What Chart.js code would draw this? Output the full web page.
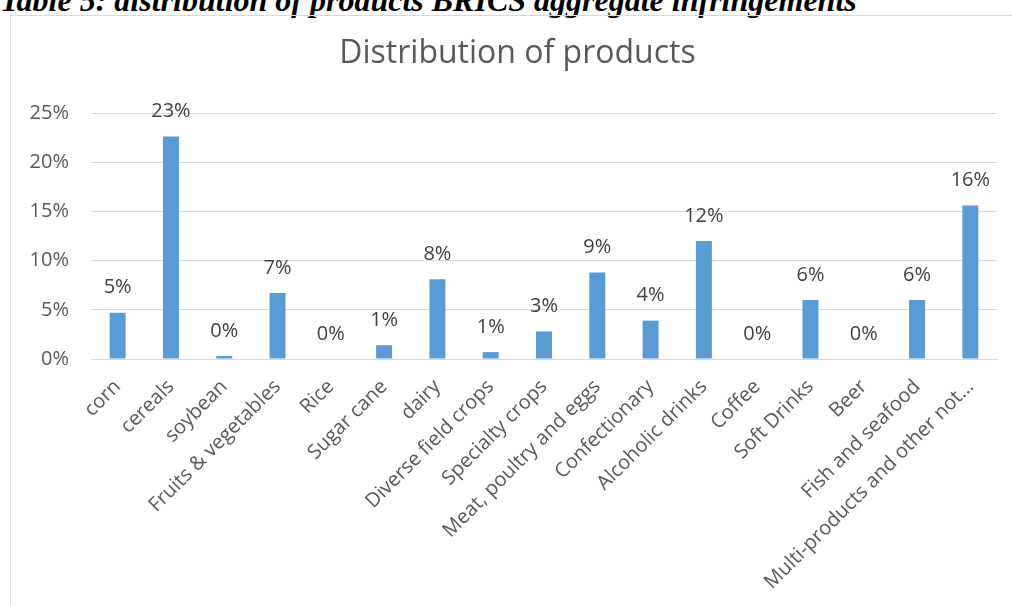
<!DOCTYPE html>
<html>
<head>
<meta charset="utf-8">
<script src="https://cdn.jsdelivr.net/npm/chart.js@4"></script>
<style>
  html, body { margin: 0; padding: 0; background: #fff; overflow: hidden; }
  body { width: 1012px; height: 605px; position: relative; }
  #caption {
    position: absolute; left: 0; top: -16px; margin: 0; white-space: nowrap;
    font-family: "Liberation Serif", serif; font-weight: bold; font-style: italic;
    font-size: 32px; line-height: 32px; color: #000;
  }
  #box {
    position: absolute; left: 10px; top: 15px; width: 1010px; height: 600px;
    border: 1px solid #d9d9d9; box-sizing: border-box;
  }
  #wrap { position: absolute; left: 0; top: 0; width: 1001px; height: 589px; }
  #title {
    position: absolute; left: 0; top: 35px; width: 1035px; text-align: center;
    font-family: "Open Sans", sans-serif; font-size: 32px; line-height: 32px; color: #595959;
  }
</style>
</head>
<body>
<p id="caption">Table 5: distribution of products BRICS aggregate infringements</p>
<div id="box"><div id="wrap"><canvas id="myChart"></canvas></div></div>
<div id="title">Distribution of products</div>
<script>
const categories = ['corn', 'cereals', 'soybean', 'Fruits & vegetables', 'Rice', 'Sugar cane', 'dairy',
  'Diverse field crops', 'Specialty crops', 'Meat, poultry and eggs', 'Confectionary', 'Alcoholic drinks',
  'Coffee', 'Soft Drinks', 'Beer', 'Fish and seafood', 'Multi-products and other not…']
const shares = [4.7, 22.6, 0.3, 6.7, 0, 1.4, 8.1, 0.7, 2.8, 8.8, 3.9, 12.0, 0, 6.0, 0, 6.0, 15.6]
const yTicks = [0, 5, 10, 15, 20, 25]

const fontFamily = '"Open Sans", sans-serif'

// labels over the bars, like the excel data labels
const barLabels = {
  id: 'barLabels',
  afterDatasetsDraw(chart) {
    const c = chart.ctx
    const meta = chart.getDatasetMeta(0)
    c.save()
    c.font = '20px ' + fontFamily
    c.fillStyle = '#404040'
    c.textAlign = 'center'
    c.textBaseline = 'middle'
    meta.data.forEach((bar, i) => {
      c.fillText(Math.round(shares[i]) + '%', bar.x, bar.y - 25)
    })
    c.restore()
  }
}

const ctx = document.getElementById('myChart')

new Chart(ctx, {
  type: 'bar',
  data: {
    labels: categories,
    datasets: [{
      data: shares,
      backgroundColor: '#5B9BD5',
      barPercentage: 0.3,
      categoryPercentage: 1
    }]
  },
  options: {
    responsive: true,
    maintainAspectRatio: false,
    animation: false,
    layout: { padding: { left: 0, right: 15, top: 97, bottom: 0 } },
    plugins: {
      legend: { display: false },
      tooltip: { enabled: false },
      title: { display: false }
    },
    scales: {
      x: {
        grid: { display: false },
        border: { color: '#d9d9d9', width: 1 },
        ticks: {
          color: '#595959',
          font: { family: fontFamily, size: 20 },
          maxRotation: 45,
          minRotation: 45,
          autoSkip: false,
          padding: 8
        },
        afterFit(scale) { scale.height = 246 }
      },
      y: {
        min: 0,
        max: 25,
        afterBuildTicks(scale) { scale.ticks = yTicks.map(v => ({ value: v })) },
        grid: { color: '#d9d9d9', drawTicks: false },
        border: { display: false },
        ticks: {
          color: '#595959',
          font: { family: fontFamily, size: 20 },
          padding: 22,
          callback: v => v + '%'
        },
        afterFit(scale) { scale.width = 80 }
      }
    }
  },
  plugins: [barLabels]
})
</script>
</body>
</html>
